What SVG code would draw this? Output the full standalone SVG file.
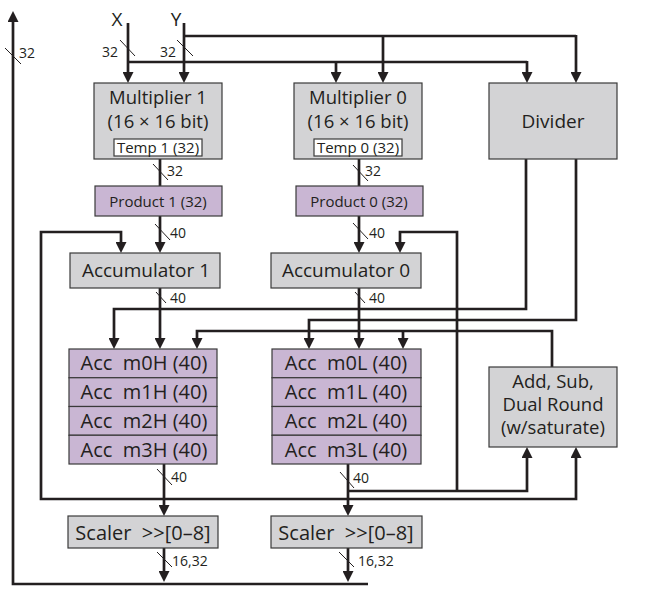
<svg xmlns="http://www.w3.org/2000/svg" width="646" height="598" viewBox="0 0 646 598">
<style>
text{font-family:"Open Sans","Liberation Sans",sans-serif;fill:#231f20;white-space:pre}
.big{font-size:19px}
.two{font-size:18.5px}
.acc{font-size:20px}
.sm{font-size:15px}
.lbl{font-size:14px}
.gray{fill:#d3d3d5;stroke:#3a3a3a;stroke-width:1.2}
.purp{fill:#c9b6d3;stroke:#3a3a3a;stroke-width:1.2}
.white{fill:#ffffff;stroke:#3a3a3a;stroke-width:1.2}
.w{fill:none;stroke:#231f20;stroke-width:2.7}
.arr{fill:none;stroke:#231f20;stroke-width:2.7;marker-end:url(#ah)}
.sl{stroke:#231f20;stroke-width:1}
</style>
<defs>
<marker id="ah" markerUnits="userSpaceOnUse" markerWidth="11" markerHeight="11" refX="6" refY="5.5" orient="auto" viewBox="0 0 11 11">
<path d="M0,0 L11,5.5 L0,11 z" fill="#231f20"/>
</marker>
</defs>

<g id="connectors">
<path class="arr" d="M128,23 V78"/>
<path class="arr" d="M184,23 V78"/>
<path class="w" d="M128,62 H527"/>
<path class="w" d="M184,36 H576"/>
<path class="arr" d="M336,62 V78"/>
<path class="arr" d="M383,36 V78"/>
<path class="arr" d="M527,61 V78"/>
<path class="arr" d="M576,35 V78"/>
<path class="w" d="M160,159 V186"/>
<path class="arr" d="M160,216 V248"/>
<path class="arr" d="M160,288 V344"/>
<path class="w" d="M359,159 V186"/>
<path class="arr" d="M359,216 V248"/>
<path class="arr" d="M359,288 V344"/>
<path class="arr" d="M526,159 V309 H114 V344"/>
<path class="arr" d="M576,159 V320 H309 V344"/>
<path class="arr" d="M552,367 V331 H197 V344"/>
<path class="arr" d="M403,331 V344"/>
<path class="arr" d="M164,464 V511"/>
<path class="arr" d="M164,499 H41 V232 H121 V248"/>
<path class="arr" d="M164,499 H576 V452"/>
<path class="arr" d="M348,464 V511"/>
<path class="arr" d="M348,491 H527 V452"/>
<path class="arr" d="M457,491 V232 H400 V248"/>
<path class="arr" d="M164,548 V577"/>
<path class="arr" d="M348,548 V577"/>
<path class="arr" d="M368,584 H13 V16"/>
<line class="sl" x1="5" y1="48" x2="21" y2="64"/>
<line class="sl" x1="120" y1="40" x2="135" y2="56"/>
<line class="sl" x1="177" y1="40" x2="193" y2="56"/>
<line class="sl" x1="153" y1="164" x2="168" y2="180"/>
<line class="sl" x1="353" y1="165" x2="368" y2="181"/>
<line class="sl" x1="155" y1="224" x2="170" y2="240"/>
<line class="sl" x1="353" y1="223" x2="368" y2="239"/>
<line class="sl" x1="156" y1="292" x2="166" y2="303"/>
<line class="sl" x1="355" y1="292" x2="365" y2="303"/>
<line class="sl" x1="157" y1="469" x2="172" y2="485"/>
<line class="sl" x1="340" y1="472" x2="354" y2="488"/>
<line class="sl" x1="157" y1="552" x2="172" y2="567"/>
<line class="sl" x1="339" y1="552" x2="354" y2="567"/>
<text class="big" x="117" y="26" text-anchor="middle">X</text>
<text class="big" x="176" y="26" text-anchor="middle">Y</text>
<text class="lbl" x="19" y="58">32</text>
<text class="lbl" x="102" y="57">32</text>
<text class="lbl" x="160" y="57">32</text>
<text class="lbl" x="167" y="176">32</text>
<text class="lbl" x="365" y="176">32</text>
<text class="lbl" x="170" y="238">40</text>
<text class="lbl" x="369" y="238">40</text>
<text class="lbl" x="170" y="303">40</text>
<text class="lbl" x="369" y="303">40</text>
<text class="lbl" x="171" y="482">40</text>
<text class="lbl" x="353" y="483">40</text>
<text class="lbl" x="172" y="566">16,32</text>
<text class="lbl" x="358" y="566">16,32</text>
</g>

<g id="multiplier1">
<rect class="gray" x="94" y="83" width="128" height="76"/>
<text class="two" x="158" y="104" text-anchor="middle">Multiplier 1</text>
<text class="two" x="158" y="127.5" text-anchor="middle">(16 × 16 bit)</text>
<rect class="white" x="114" y="139" width="88" height="17"/>
<text class="sm" x="158" y="153" text-anchor="middle">Temp 1 (32)</text>
</g>
<g id="multiplier0">
<rect class="gray" x="294" y="83" width="128" height="76"/>
<text class="two" x="358" y="104" text-anchor="middle">Multiplier 0</text>
<text class="two" x="358" y="127.5" text-anchor="middle">(16 × 16 bit)</text>
<rect class="white" x="314" y="139" width="88" height="17"/>
<text class="sm" x="358" y="153" text-anchor="middle">Temp 0 (32)</text>
</g>
<g id="divider">
<rect class="gray" x="489" y="83" width="128" height="76"/>
<text class="big" x="553" y="128" text-anchor="middle">Divider</text>
</g>
<g id="product1">
<rect class="purp" x="95" y="186" width="127" height="30"/>
<text class="sm" x="158" y="207" text-anchor="middle">Product 1 (32)</text>
</g>
<g id="product0">
<rect class="purp" x="296" y="186" width="127" height="30"/>
<text class="sm" x="359" y="207" text-anchor="middle">Product 0 (32)</text>
</g>
<g id="accumulator1">
<rect class="gray" x="70" y="253" width="150" height="35"/>
<text class="big" x="146" y="277" text-anchor="middle">Accumulator 1</text>
</g>
<g id="accumulator0">
<rect class="gray" x="271" y="253" width="150" height="35"/>
<text class="big" x="346" y="277" text-anchor="middle">Accumulator 0</text>
</g>
<g id="accH">
<rect class="purp" x="69" y="349" width="148" height="28.75"/>
<rect class="purp" x="69" y="377.75" width="148" height="28.75"/>
<rect class="purp" x="69" y="406.5" width="148" height="28.75"/>
<rect class="purp" x="69" y="435.25" width="148" height="28.75"/>
<text class="acc" x="144" y="370" text-anchor="middle">Acc  m0H (40)</text>
<text class="acc" x="144" y="399" text-anchor="middle">Acc  m1H (40)</text>
<text class="acc" x="144" y="428" text-anchor="middle">Acc  m2H (40)</text>
<text class="acc" x="144" y="456.5" text-anchor="middle">Acc  m3H (40)</text>
</g>
<g id="accL">
<rect class="purp" x="272" y="349" width="149" height="28.75"/>
<rect class="purp" x="272" y="377.75" width="149" height="28.75"/>
<rect class="purp" x="272" y="406.5" width="149" height="28.75"/>
<rect class="purp" x="272" y="435.25" width="149" height="28.75"/>
<text class="acc" x="346" y="370" text-anchor="middle">Acc  m0L (40)</text>
<text class="acc" x="346" y="399" text-anchor="middle">Acc  m1L (40)</text>
<text class="acc" x="346" y="428" text-anchor="middle">Acc  m2L (40)</text>
<text class="acc" x="346" y="456.5" text-anchor="middle">Acc  m3L (40)</text>
</g>
<g id="addsub">
<rect class="gray" x="489" y="367" width="128" height="80"/>
<text class="two" x="553" y="388" text-anchor="middle">Add, Sub,</text>
<text class="two" x="553" y="411" text-anchor="middle">Dual Round</text>
<text class="two" x="553" y="434" text-anchor="middle">(w/saturate)</text>
</g>
<g id="scaler1">
<rect class="gray" x="68" y="516" width="150" height="32"/>
<text class="acc" x="143" y="540" text-anchor="middle">Scaler  &gt;&gt;[0–8]</text>
</g>
<g id="scaler0">
<rect class="gray" x="271" y="516" width="151" height="32"/>
<text class="acc" x="346" y="540" text-anchor="middle">Scaler  &gt;&gt;[0–8]</text>
</g>
</svg>
